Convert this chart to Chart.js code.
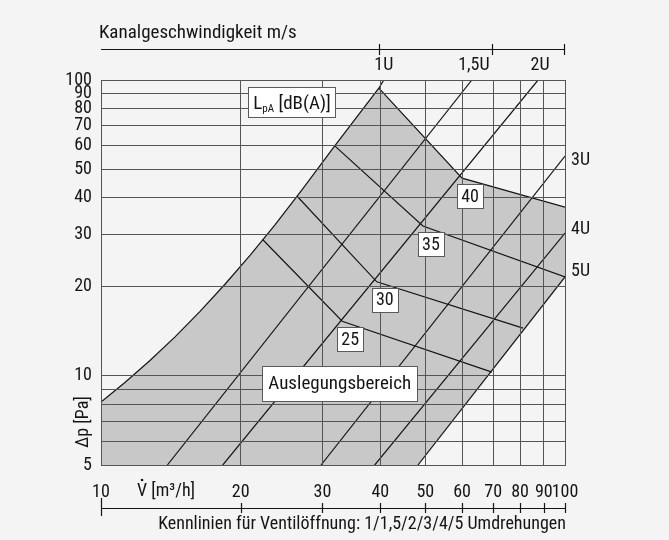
<!DOCTYPE html>
<html>
<head>
<meta charset="utf-8">
<script src="https://cdn.jsdelivr.net/npm/chart.js@4.4.0/dist/chart.umd.min.js"></script>
<style>
  html, body { margin: 0; padding: 0; background: #f4f4f4; }
  #wrap { width: 669px; height: 540px; }
</style>
</head>
<body>
<div id="wrap"><canvas id="chart" width="669" height="540"></canvas></div>
<script>
// Axis ticks
const flowTicks = [10, 20, 30, 40, 50, 60, 70, 80, 90, 100];
const pressureTicks = [5, 6, 7, 8, 9, 10, 20, 30, 40, 50, 60, 70, 80, 90, 100];
const pressureLabels = [5, 10, 20, 30, 40, 50, 60, 70, 80, 90, 100];
const speedTicks = [40, 70, 100];

// Left envelope of the design range (runs into the 1-turn curve at the top)
const envelopeFlow = [10, 11.26, 12.75, 14.44, 16.35, 18.5, 20.95, 23.71, 26.98, 31.9, 39.7, 40.7];
const envelopeDp   = [8.16, 9.50, 11.27, 13.55, 16.53, 20.41, 25.55, 32.42, 42.1, 59.9, 93.9, 100];

// Valve characteristic lines (turns open): start and end points
const turnNames     = ['1,5U', '2U', '3U', '4U', '5U'];
const turnStartFlow = [13.9, 18.3, 29.8, 38.9, 48.2];
const turnStartDp   = [5, 5, 5, 5, 5];
const turnEndFlow   = [63.0, 87.5, 100, 100, 100];
const turnEndDp     = [100, 100, 55.3, 30.4, 21.6];

// Sound pressure level lines LpA [dB(A)]: start, knee, end
const levels     = [25, 30, 35, 40];
const levelFlow  = [[22.3, 33.1, 69.6], [26.5, 39.3, 81.2], [31.9, 49.4, 100], [39.7, 60.0, 100]];
const levelDp    = [[28.9, 15.3, 10.3], [40.4, 20.8, 14.5], [59.9, 32.1, 21.6], [93.9, 46.6, 37.2]];

const FONT = '"Liberation Sans Narrow", "Roboto Condensed", "DejaVu Sans Condensed", "Liberation Sans", sans-serif';
const INK = '#151515';
const GRID = '#555555';

const pts = (xs, ys) => xs.map((x, i) => ({ x, y: ys[i] }));

// Design range outline: envelope up to the apex, 40 dB line, right edge, 5-turn line, bottom/left edges
const apexIdx = envelopeFlow.length - 2;
const region = [
  ...pts(envelopeFlow.slice(0, apexIdx + 1), envelopeDp.slice(0, apexIdx + 1)),
  ...pts(levelFlow[3].slice(1), levelDp[3].slice(1)),
  { x: turnEndFlow[4], y: turnEndDp[4] },
  { x: turnStartFlow[4], y: turnStartDp[4] },
  { x: flowTicks[0], y: pressureTicks[0] },
  { x: envelopeFlow[0], y: envelopeDp[0] }
];

const lineStyle = { showLine: true, borderColor: INK, borderWidth: 1.2, pointRadius: 0, fill: false, order: 1 };

const datasets = [
  { data: region, showLine: true, fill: 'shape', backgroundColor: '#c8c8c8',
    borderColor: 'rgba(0,0,0,0)', borderWidth: 0, pointRadius: 0, order: 10 },
  { ...lineStyle, data: pts(envelopeFlow, envelopeDp) },
  ...turnNames.map((n, i) => ({ ...lineStyle,
    data: [{ x: turnStartFlow[i], y: turnStartDp[i] }, { x: turnEndFlow[i], y: turnEndDp[i] }] })),
  ...levels.map((l, i) => ({ ...lineStyle, data: pts(levelFlow[i], levelDp[i]) }))
];

function boxedText(ctx, text, cx, cy, font, padX, h) {
  ctx.font = font;
  const w = ctx.measureText(text).width + 2 * padX;
  ctx.fillStyle = '#ffffff';
  ctx.fillRect(Math.round(cx - w / 2) + 0.5, Math.round(cy - h / 2) + 0.5, Math.round(w), h);
  ctx.strokeStyle = '#5a5a5a';
  ctx.lineWidth = 1;
  ctx.strokeRect(Math.round(cx - w / 2) + 0.5, Math.round(cy - h / 2) + 0.5, Math.round(w), h);
  ctx.fillStyle = INK;
  ctx.textAlign = 'center';
  ctx.textBaseline = 'middle';
  ctx.fillText(text, cx, cy + 1);
}

const turnLabelShift = [0, 0, 4, -4, -5];

const annotations = {
  id: 'annotations',
  afterDraw(chart) {
    const { ctx } = chart;
    const xs = chart.scales.x, ys = chart.scales.y;
    const X = v => xs.getPixelForValue(v), Y = v => ys.getPixelForValue(v);
    const left = X(flowTicks[0]), right = X(flowTicks[flowTicks.length - 1]);
    ctx.save();

    // duct velocity ruler on top
    ctx.strokeStyle = INK; ctx.lineWidth = 1.2;
    ctx.beginPath(); ctx.moveTo(left, 49.5); ctx.lineTo(right, 49.5); ctx.stroke();
    speedTicks.forEach(v => {
      const px = Math.round(X(v)) - 0.5;
      ctx.beginPath(); ctx.moveTo(px, 44); ctx.lineTo(px, 55); ctx.stroke();
    });
    ctx.fillStyle = INK;
    ctx.font = '19px ' + FONT;
    ctx.textAlign = 'left'; ctx.textBaseline = 'alphabetic';
    ctx.fillText('Kanalgeschwindigkeit m/s', 99, 38);

    // turn labels: top ones at the crossing with the top edge, others at the right edge
    ctx.font = '18px ' + FONT;
    ctx.textBaseline = 'middle';
    ctx.textAlign = 'center';
    ctx.fillText('1U', X(envelopeFlow[envelopeFlow.length - 1]), 65);
    turnNames.forEach((n, i) => {
      if (turnEndDp[i] >= 100) {
        ctx.textAlign = 'center';
        ctx.fillText(n, X(turnEndFlow[i]) + 2, 65);
      } else {
        ctx.textAlign = 'left';
        ctx.fillText(n, right + 6, Y(turnEndDp[i]) + turnLabelShift[i]);
      }
    });

    // flow ruler below
    const rulerY = 508.5;
    ctx.beginPath(); ctx.moveTo(left, rulerY); ctx.lineTo(right, rulerY); ctx.stroke();
    flowTicks.forEach((v, i) => {
      const px = Math.round(X(v)) + 0.5;
      ctx.beginPath();
      ctx.moveTo(px, i === 0 ? 498 : 503);
      ctx.lineTo(px, i === 0 ? 516 : 513);
      ctx.stroke();
    });
    ctx.font = '18px ' + FONT;
    ctx.textAlign = 'left';
    const vx = 137;
    ctx.fillText('V [m\u00B3/h]', vx, 491);
    const vw = ctx.measureText('V').width;
    ctx.beginPath(); ctx.arc(vx + vw / 2, 480, 1.3, 0, Math.PI * 2); ctx.fill();
    ctx.textAlign = 'right';
    ctx.fillText('Kennlinien f\u00FCr Ventil\u00F6ffnung: 1/1,5/2/3/4/5 Umdrehungen', right + 1, 524);

    // y-axis title
    ctx.save();
    ctx.translate(83, 422);
    ctx.rotate(-Math.PI / 2);
    ctx.textAlign = 'center';
    ctx.fillText('\u0394p [Pa]', 0, 0);
    ctx.restore();

    // level labels below each knee
    levels.forEach((l, i) => {
      boxedText(ctx, String(l), X(levelFlow[i][1]) + 8, Y(levelDp[i][1]) + 18, '18px ' + FONT, 4, 24);
    });

    // design range label
    boxedText(ctx, 'Auslegungsbereich', X(32.7), Y(9.46), '19px ' + FONT, 6, 35);

    // LpA legend box
    const cx = X(25.8), cy = Y(84.2);
    const big = '19px ' + FONT, small = '11px ' + FONT;
    ctx.font = big; const wL = ctx.measureText('L').width;
    const wR = ctx.measureText(' [dB(A)]').width;
    ctx.font = small; const wS = ctx.measureText('pA').width;
    const tw = wL + wS + wR, bw = Math.max(tw + 10, 86), bh = 30;
    const bx = Math.round(cx - bw / 2) + 0.5, by = Math.round(cy - bh / 2) + 0.5;
    ctx.fillStyle = '#ffffff'; ctx.fillRect(bx, by, Math.round(bw), bh);
    ctx.strokeStyle = '#5a5a5a'; ctx.lineWidth = 1; ctx.strokeRect(bx, by, Math.round(bw), bh);
    ctx.fillStyle = INK; ctx.textAlign = 'left'; ctx.textBaseline = 'alphabetic';
    let tx = cx - tw / 2;
    ctx.font = big; ctx.fillText('L', tx, cy + 7); tx += wL;
    ctx.font = small; ctx.fillText('pA', tx, cy + 10); tx += wS;
    ctx.font = big; ctx.fillText(' [dB(A)]', tx, cy + 7);

    ctx.restore();
  }
};

const pageBackground = {
  id: 'pageBackground',
  beforeDraw(chart) {
    const { ctx } = chart;
    ctx.save();
    ctx.fillStyle = '#f4f4f4';
    ctx.fillRect(0, 0, chart.width, chart.height);
    ctx.restore();
  }
};

new Chart(document.getElementById('chart'), {
  type: 'scatter',
  data: { datasets },
  options: {
    responsive: false,
    animation: false,
    devicePixelRatio: 1,
    layout: { padding: { left: 0, right: 104, top: 80, bottom: 0 } },
    plugins: { legend: { display: false }, tooltip: { enabled: false } },
    elements: { point: { radius: 0 } },
    scales: {
      x: {
        type: 'logarithmic', min: 10, max: 100,
        afterBuildTicks: s => { s.ticks = flowTicks.map(v => ({ value: v })); },
        afterFit: s => { s.height = 75; },
        grid: { color: GRID, lineWidth: 1, drawTicks: false, z: 1 },
        border: { color: GRID, width: 1, z: 1 },
        ticks: { autoSkip: false, maxRotation: 0, padding: 17, color: INK,
          font: { family: FONT, size: 18 }, callback: v => String(v) }
      },
      y: {
        type: 'logarithmic', min: 5, max: 100,
        afterBuildTicks: s => { s.ticks = pressureTicks.map(v => ({ value: v })); },
        afterFit: s => { s.width = 101; },
        grid: { color: GRID, lineWidth: 1, drawTicks: false, z: 1 },
        border: { color: GRID, width: 1, z: 1 },
        ticks: { autoSkip: false, padding: 9, color: INK,
          font: { family: FONT, size: 18 },
          callback: v => pressureLabels.includes(v) ? String(v) : '' }
      }
    }
  },
  plugins: [pageBackground, annotations]
});
</script>
</body>
</html>
